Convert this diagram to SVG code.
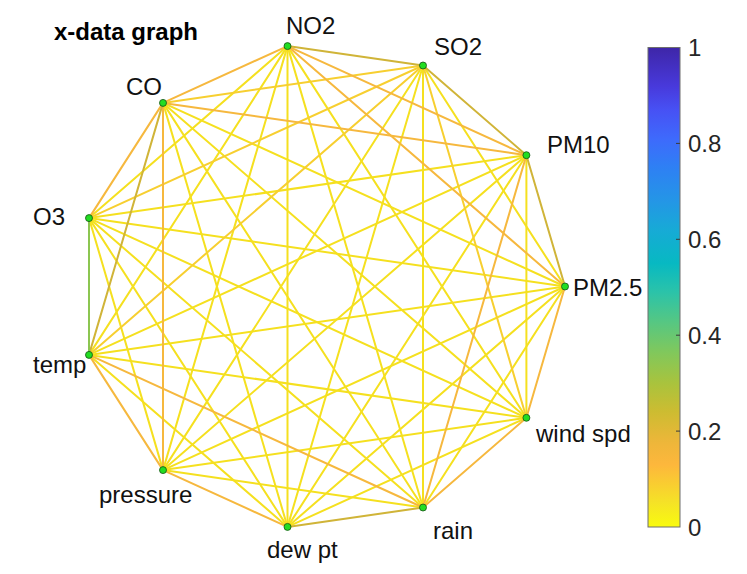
<svg xmlns="http://www.w3.org/2000/svg" width="747" height="574" viewBox="0 0 747 574">
<style>
  .e line{stroke-width:2;stroke-linecap:round;fill:none}
  .y{stroke:#F5E01F}
  .y2{stroke:#F7CF30}
  .o{stroke:#F6B83E}
  .ol{stroke:#D0B438}
  .g{stroke:#8CC651}
  .node circle{fill:#22DD22;stroke:#145214;stroke-width:0.8}
  .lbl{font-family:"Liberation Sans",Arial,sans-serif;font-size:24px;fill:#111}
  .tick{font-family:"Liberation Sans",Arial,sans-serif;font-size:24px;fill:#262626}
  .title{font-family:"Liberation Sans",Arial,sans-serif;font-size:24px;font-weight:bold;fill:#000}
</style>
<defs>
  <linearGradient id="parula" x1="0" y1="0" x2="0" y2="1">
    <stop offset="0" stop-color="#3E26A8"/>
    <stop offset="0.08" stop-color="#4839DB"/>
    <stop offset="0.13" stop-color="#4751F4"/>
    <stop offset="0.19" stop-color="#3E6AFC"/>
    <stop offset="0.25" stop-color="#2E80F4"/>
    <stop offset="0.32" stop-color="#2496E6"/>
    <stop offset="0.38" stop-color="#17AAD6"/>
    <stop offset="0.45" stop-color="#07B9C2"/>
    <stop offset="0.51" stop-color="#2BC3A9"/>
    <stop offset="0.57" stop-color="#54C784"/>
    <stop offset="0.635" stop-color="#80C85C"/>
    <stop offset="0.70" stop-color="#A9C33D"/>
    <stop offset="0.76" stop-color="#CDBC31"/>
    <stop offset="0.825" stop-color="#EEB63A"/>
    <stop offset="0.87" stop-color="#FDB73C"/>
    <stop offset="0.95" stop-color="#F5E326"/>
    <stop offset="1" stop-color="#F9FB0E"/>
  </linearGradient>
</defs>
<rect width="747" height="574" fill="#fff"/>
<text class="title" x="54" y="40">x-data graph</text>
<g id="connectors" class="e">
  <line class="y" x1="565" y1="286.5" x2="423" y2="65.5"/>
  <line class="y" x1="287.5" y1="46.1" x2="89" y2="218.1"/>
  <line class="y" x1="89" y1="218.1" x2="163" y2="470.1"/>
  <line class="y" x1="89" y1="354.9" x2="287.5" y2="526.9"/>
  <line class="y" x1="163" y1="470.1" x2="423" y2="507.5"/>
  <line class="y" x1="287.5" y1="526.9" x2="526.4" y2="417.8"/>
  <line class="y" x1="423" y1="507.5" x2="565" y2="286.5"/>
  <line class="y" x1="526.4" y1="417.8" x2="526.4" y2="155.2"/>
  <line class="y" x1="287.5" y1="46.1" x2="89" y2="354.9"/>
  <line class="y" x1="89" y1="218.1" x2="287.5" y2="526.9"/>
  <line class="y" x1="163" y1="470.1" x2="526.4" y2="417.8"/>
  <line class="y" x1="287.5" y1="526.9" x2="565" y2="286.5"/>
  <line class="y" x1="565" y1="286.5" x2="163" y2="102.9"/>
  <line class="y" x1="526.4" y1="155.2" x2="89" y2="218.1"/>
  <line class="y" x1="287.5" y1="46.1" x2="163" y2="470.1"/>
  <line class="y" x1="163" y1="102.9" x2="287.5" y2="526.9"/>
  <line class="y" x1="89" y1="218.1" x2="423" y2="507.5"/>
  <line class="y" x1="89" y1="354.9" x2="526.4" y2="417.8"/>
  <line class="y" x1="163" y1="470.1" x2="565" y2="286.5"/>
  <line class="y" x1="287.5" y1="526.9" x2="526.4" y2="155.2"/>
  <line class="y" x1="423" y1="507.5" x2="423" y2="65.5"/>
  <line class="y" x1="526.4" y1="417.8" x2="287.5" y2="46.1"/>
  <line class="y" x1="565" y1="286.5" x2="89" y2="218.1"/>
  <line class="y" x1="526.4" y1="155.2" x2="89" y2="354.9"/>
  <line class="y" x1="423" y1="65.5" x2="163" y2="470.1"/>
  <line class="y" x1="287.5" y1="46.1" x2="287.5" y2="526.9"/>
  <line class="y" x1="163" y1="102.9" x2="423" y2="507.5"/>
  <line class="y" x1="89" y1="218.1" x2="526.4" y2="417.8"/>
  <line class="y" x1="89" y1="354.9" x2="565" y2="286.5"/>
  <line class="y" x1="163" y1="470.1" x2="526.4" y2="155.2"/>
  <line class="y" x1="287.5" y1="526.9" x2="423" y2="65.5"/>
  <line class="y" x1="423" y1="507.5" x2="287.5" y2="46.1"/>
  <line class="y" x1="526.4" y1="417.8" x2="163" y2="102.9"/>
  <line class="y2" x1="423" y1="65.5" x2="163" y2="102.9"/>
  <line class="y2" x1="423" y1="65.5" x2="89" y2="218.1"/>
  <line class="y2" x1="526.4" y1="417.8" x2="423" y2="65.5"/>
  <line class="y2" x1="423" y1="65.5" x2="89" y2="354.9"/>
  <line class="o" x1="287.5" y1="46.1" x2="163" y2="102.9"/>
  <line class="o" x1="163" y1="102.9" x2="89" y2="218.1"/>
  <line class="o" x1="89" y1="354.9" x2="163" y2="470.1"/>
  <line class="o" x1="163" y1="470.1" x2="287.5" y2="526.9"/>
  <line class="o" x1="423" y1="507.5" x2="526.4" y2="417.8"/>
  <line class="o" x1="526.4" y1="417.8" x2="565" y2="286.5"/>
  <line class="o" x1="526.4" y1="155.2" x2="287.5" y2="46.1"/>
  <line class="o" x1="565" y1="286.5" x2="287.5" y2="46.1"/>
  <line class="o" x1="526.4" y1="155.2" x2="163" y2="102.9"/>
  <line class="o" x1="163" y1="102.9" x2="163" y2="470.1"/>
  <line class="o" x1="89" y1="354.9" x2="423" y2="507.5"/>
  <line class="o" x1="423" y1="507.5" x2="526.4" y2="155.2"/>
  <line class="ol" x1="565" y1="286.5" x2="526.4" y2="155.2"/>
  <line class="ol" x1="526.4" y1="155.2" x2="423" y2="65.5"/>
  <line class="ol" x1="423" y1="65.5" x2="287.5" y2="46.1"/>
  <line class="ol" x1="287.5" y1="526.9" x2="423" y2="507.5"/>
  <line class="ol" x1="163" y1="102.9" x2="89" y2="354.9"/>
  <line class="g" x1="89" y1="218.1" x2="89" y2="354.9"/>
</g>
<g id="n-pm25" class="node"><circle cx="565" cy="286.5" r="3.5"/><text class="lbl" x="573" y="296">PM2.5</text></g>
<g id="n-pm10" class="node"><circle cx="526.4" cy="155.2" r="3.5"/><text class="lbl" x="547" y="153">PM10</text></g>
<g id="n-so2" class="node"><circle cx="423" cy="65.5" r="3.5"/><text class="lbl" x="434" y="55">SO2</text></g>
<g id="n-no2" class="node"><circle cx="287.5" cy="46.1" r="3.5"/><text class="lbl" x="286" y="33.5">NO2</text></g>
<g id="n-co" class="node"><circle cx="163" cy="102.9" r="3.5"/><text class="lbl" x="126" y="95">CO</text></g>
<g id="n-o3" class="node"><circle cx="89" cy="218.1" r="3.5"/><text class="lbl" x="33" y="225">O3</text></g>
<g id="n-temp" class="node"><circle cx="89" cy="354.9" r="3.5"/><text class="lbl" x="33" y="373">temp</text></g>
<g id="n-pressure" class="node"><circle cx="163" cy="470.1" r="3.5"/><text class="lbl" x="99" y="503">pressure</text></g>
<g id="n-dewpt" class="node"><circle cx="287.5" cy="526.9" r="3.5"/><text class="lbl" x="267" y="558">dew pt</text></g>
<g id="n-rain" class="node"><circle cx="423" cy="507.5" r="3.5"/><text class="lbl" x="433" y="539">rain</text></g>
<g id="n-wind" class="node"><circle cx="526.4" cy="417.8" r="3.5"/><text class="lbl" x="536" y="442">wind spd</text></g>
<g id="colorbar">
  <rect x="648" y="47.5" width="32" height="479.5" fill="url(#parula)" stroke="#6e6e6e" stroke-width="1"/>
  <g stroke="#3a3a3a" stroke-width="1">
    <line x1="676" y1="143.4" x2="680" y2="143.4"/>
    <line x1="676" y1="239.3" x2="680" y2="239.3"/>
    <line x1="676" y1="335.2" x2="680" y2="335.2"/>
    <line x1="676" y1="431.1" x2="680" y2="431.1"/>
  </g>
  <text class="tick" x="688" y="56">1</text>
  <text class="tick" x="688" y="152">0.8</text>
  <text class="tick" x="688" y="248">0.6</text>
  <text class="tick" x="688" y="344">0.4</text>
  <text class="tick" x="688" y="440">0.2</text>
  <text class="tick" x="688" y="536">0</text>
</g>
</svg>
